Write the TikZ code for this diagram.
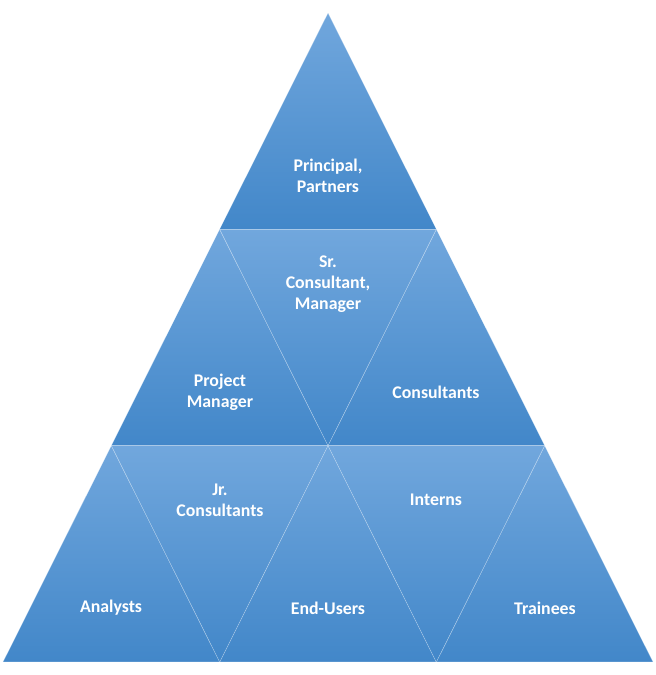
\documentclass[tikz,border=0pt]{standalone}
\usepackage{fontspec}
\setmainfont{Carlito}

\definecolor{tritop}{RGB}{113,167,221}
\definecolor{tribot}{RGB}{66,135,201}

\begin{document}
\begin{tikzpicture}[x=1pt, y=-1pt,
    tri/.style={top color=tritop, bottom color=tribot, draw=white, draw opacity=0.35, line width=0.5pt},
    lbl/.style={text=white, align=center, inner sep=0pt, font=\bfseries\fontsize{17.8}{21}\selectfont}]
    \useasboundingbox (0,0) rectangle (656,675);
    \def\w{216.67}
    \def\h{216.33}

    % Gitterpunkte der Pyramide: Zeile k, Punkt j
    \foreach \k in {0,...,3}{
        \foreach \j in {0,...,\k}{
            \coordinate (P\k\j) at ({328+(\j-\k/2)*\w}, {13+\k*\h});
        }
    }

    % aufrechte Dreiecke
    \foreach \k in {0,...,2}{
        \pgfmathtruncatemacro\kk{\k+1}
        \foreach \j in {0,...,\k}{
            \pgfmathtruncatemacro\jj{\j+1}
            \path[tri] (P\k\j) -- (P\kk\j) -- (P\kk\jj) -- cycle;
        }
    }

    % umgedrehte Dreiecke
    \foreach \k in {1,2}{
        \pgfmathtruncatemacro\kk{\k+1}
        \pgfmathtruncatemacro\km{\k-1}
        \foreach \j in {0,...,\km}{
            \pgfmathtruncatemacro\jj{\j+1}
            \path[tri] (P\k\j) -- (P\k\jj) -- (P\kk\jj) -- cycle;
        }
    }

    % Beschriftungen
    \node[lbl] (principal) at (328,176) {Principal,\\Partners};
    \node[lbl] (senior) at (328,284) {Sr.\\Consultant,\\Manager};
    \node[lbl] (pm) at (220,392) {Project\\Manager};
    \node[lbl] (cons) at (436,392) {Consultants};
    \node[lbl] (junior) at (220,500) {Jr.\\Consultants};
    \node[lbl] (interns) at (436,500) {Interns};
    \node[lbl] (analysts) at (111,608) {Analysts};
    \node[lbl] (endusers) at (328,608) {End-Users};
    \node[lbl] (trainees) at (545,608) {Trainees};
\end{tikzpicture}
\end{document}
